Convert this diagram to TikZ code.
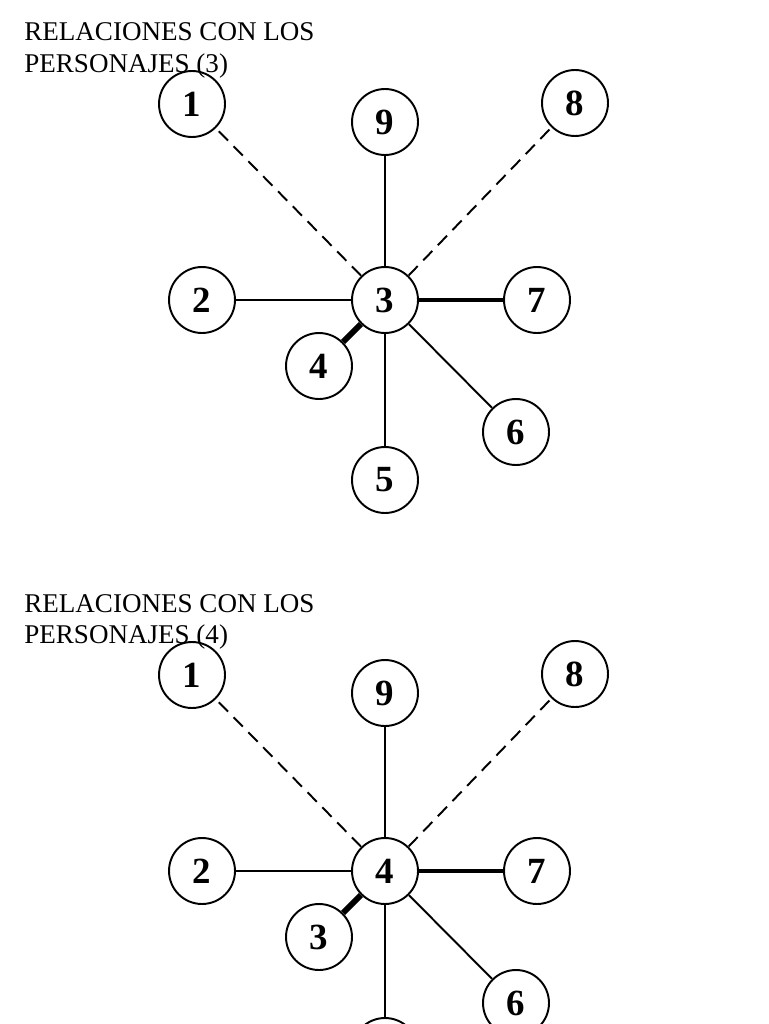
\documentclass[tikz,border=0pt]{standalone}
\usepackage{fontspec}
\setmainfont{Liberation Serif}
\usetikzlibrary{positioning}

\tikzset{
  persona/.style={circle, draw, line width=1.1pt, minimum size=1.32cm, inner sep=0pt,
    font=\fontsize{21}{21}\selectfont\bfseries},
  titulo/.style={anchor=base west, inner sep=0pt, font=\fontsize{15.4}{17.6}\selectfont},
  rel/.style={line width=1.1pt},
  lejana/.style={rel, dash pattern=on 7.5pt off 4.5pt},
  fuerte/.style={line width=1.9pt},
  muyfuerte/.style={line width=3.4pt},
}

\begin{document}
\begin{tikzpicture}[x=0.02cm, y=-0.02cm]
    \useasboundingbox (0,0) rectangle (768,1024);
    \clip (0,0) rectangle (768,1024);

    \foreach \c/\o/\dy in {3/4/0, 4/3/571} {
      \begin{scope}[shift={(0,\dy)}]
        % Title
        \node[titulo] (ta\c) at (24,41) {RELACIONES CON LOS};
        \node[titulo] (tb\c) at (24,72) {PERSONAJES (\c)};

        % Characters
        \node[persona] (c\c) at (385,300) {\c};
        \node[persona] (p\c-1) at (192,104) {1};
        \node[persona] (p\c-9) at (385,122) {9};
        \node[persona] (p\c-8) at (575,103) {8};
        \node[persona] (p\c-2) at (202,300) {2};
        \node[persona] (p\c-7) at (537,300) {7};
        \node[persona] (p\c-o) at (319,366) {\o};
        \node[persona] (p\c-6) at (516,432) {6};
        \node[persona] (p\c-5) at (385,480) {5};

        % Relations
        \draw[lejana] (c\c) -- (p\c-1);
        \draw[lejana] (c\c) -- (p\c-8);
        \draw[rel] (c\c) -- (p\c-9);
        \draw[rel] (c\c) -- (p\c-2);
        \draw[rel] (c\c) -- (p\c-6);
        \draw[rel] (c\c) -- (p\c-5);
        \draw[fuerte] (c\c) -- (p\c-7);
        \draw[muyfuerte] (c\c) -- (p\c-o);
      \end{scope}
    }
\end{tikzpicture}
\end{document}
